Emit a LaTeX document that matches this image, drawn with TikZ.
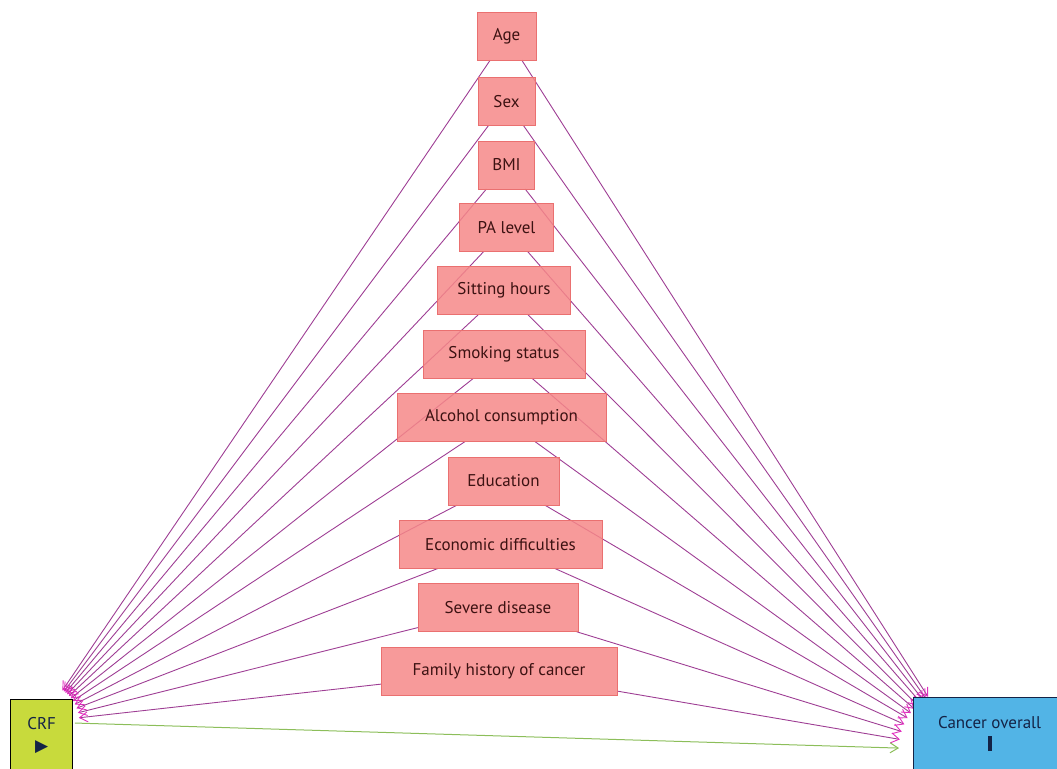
\documentclass[tikz,border=0pt]{standalone}
\usepackage{fontspec}
\setmainfont{PT Sans}
\newfontfamily\symfont{DejaVu Sans}
\usepackage{xcolor}
\usetikzlibrary{arrows.meta, positioning, backgrounds}

\definecolor{boxfill}{RGB}{246,136,136}
\definecolor{boxline}{RGB}{234,112,112}
\definecolor{boxtext}{RGB}{60,18,18}
\definecolor{crffill}{RGB}{200,218,60}
\definecolor{canfill}{RGB}{82,180,230}
\definecolor{cantext}{RGB}{20,35,70}
\definecolor{edgecol}{RGB}{158,62,148}
\definecolor{tipcol}{RGB}{225,45,190}
\definecolor{causecol}{RGB}{140,190,90}

\begin{document}
\begin{tikzpicture}[
    x=1pt, y=-1pt,
    node distance=15pt,
    covar/.style={rectangle, draw=boxline, fill=boxfill, fill opacity=0.85, text opacity=1, text=boxtext, minimum height=48pt, inner sep=0pt, font=\fontsize{17}{20}\selectfont},
    exposure/.style={rectangle, draw=black, line width=1.2pt, fill=crffill, text=cantext, align=center, inner sep=0pt, font=\fontsize{17}{20}\selectfont},
    outcome/.style={rectangle, draw=cantext, line width=1.2pt, fill=canfill, text=cantext, align=center, inner sep=0pt, font=\fontsize{17}{20}\selectfont},
    toexp/.style={draw=edgecol, line width=0.9pt, -{Straight Barb[length=8pt, width=10pt, color=tipcol]}, shorten >=38pt},
    toout/.style={draw=edgecol, line width=0.9pt, -{Straight Barb[length=8pt, width=10pt, color=tipcol]}, shorten >=63pt},
    causal/.style={draw=causecol, line width=1pt, -{Straight Barb[length=8pt, width=10pt]}, shorten <=34pt, shorten >=63pt}
]
\useasboundingbox (0,0) rectangle (1057,768);
\clip (0,0) rectangle (1057,768);

% covariates, top to bottom
\node[covar, minimum width=59pt] (age) at (506.5,36) {Age};
\node[covar, minimum width=57pt, below=17pt of age] (sex) {Sex};
\node[covar, minimum width=56pt, below=of sex] (bmi) {BMI};
\node[covar, minimum width=94pt, below=14pt of bmi] (pa) {PA level};
\node[covar, minimum width=133pt, below=of pa, xshift=-2.5pt] (sitting) {Sitting hours};
\node[covar, minimum width=162pt, below=of sitting] (smoking) {Smoking status};
\node[covar, minimum width=209pt, below=of smoking, xshift=-2.5pt] (alcohol) {Alcohol consumption};
\node[covar, minimum width=111pt, below=of alcohol, xshift=2pt] (education) {Education};
\node[covar, minimum width=203pt, below=of education, xshift=-3pt] (economic) {Economic difficulties};
\node[covar, minimum width=160pt, below=of economic, xshift=-2.5pt] (severe) {Severe disease};
\node[covar, minimum width=236pt, below=of severe, xshift=1pt] (family) {Family history of cancer};

% exposure and outcome
\node[exposure, anchor=north west, minimum width=62pt, minimum height=72pt] (crf) at (10,699) {CRF\\[2pt]{\symfont ▶}};
\node[outcome, anchor=north west, minimum width=152pt, minimum height=72pt] (cancer) at (913,697) {Cancer overall\\[2pt]\rule{4pt}{15pt}};
\coordinate (crf-c) at (41,722);
\coordinate (can-c) at (962,750);

\begin{scope}[on background layer]
\draw[toexp] (age) -- (crf-c);
\draw[toexp] (sex) -- (crf-c);
\draw[toexp] (bmi) -- (crf-c);
\draw[toexp] (pa) -- (crf-c);
\draw[toexp] (sitting) -- (crf-c);
\draw[toexp] (smoking) -- (crf-c);
\draw[toexp] (alcohol) -- (crf-c);
\draw[toexp] (education) -- (crf-c);
\draw[toexp] (economic) -- (crf-c);
\draw[toexp] (severe) -- (crf-c);
\draw[toexp] (family) -- (crf-c);

\draw[toout] (age) -- (can-c);
\draw[toout] (sex) -- (can-c);
\draw[toout] (bmi) -- (can-c);
\draw[toout] (pa) -- (can-c);
\draw[toout] (sitting) -- (can-c);
\draw[toout] (smoking) -- (can-c);
\draw[toout] (alcohol) -- (can-c);
\draw[toout] (education) -- (can-c);
\draw[toout] (economic) -- (can-c);
\draw[toout] (severe) -- (can-c);
\draw[toout] (family) -- (can-c);

\draw[causal] (crf-c) -- (can-c);
\end{scope}
\end{tikzpicture}
\end{document}
